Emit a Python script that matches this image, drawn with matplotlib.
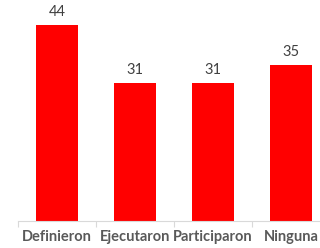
import numpy as np
import matplotlib
matplotlib.use("Agg")
import matplotlib.pyplot as plt

# Data
categories = ["Definieron", "Ejecutaron", "Participaron", "Ninguna"]
values = [44, 31, 31, 35]

BAR_COLOR = "#ff0000"
TEXT_COLOR = "#595959"
AXIS_COLOR = "#d9d9d9"

fig = plt.figure(figsize=(3.2, 2.48), dpi=100)
# axes runs a bit past the right border like in the source
ax = fig.add_axes([18 / 320, 27.5 / 248, 312 / 320, 221.8 / 248])

x = np.arange(len(categories))
bars = ax.bar(x, values, width=0.53, color=BAR_COLOR, zorder=2)

for b, v in zip(bars, values):
    ax.text(b.get_x() + b.get_width() / 2, v + 1.4, str(v),
            ha="center", va="bottom", fontsize=10.5, color="#404040",
            family="Lato")

ax.set_xlim(-0.5, len(categories) - 0.5)
ax.set_ylim(0, 50)

# category boundaries get the tick marks, labels sit in between
ax.set_xticks(np.arange(-0.5, len(categories), 1.0))
ax.set_xticklabels([])
ax.set_xticks(x, minor=True)
ax.set_xticklabels(categories, minor=True, fontsize=10.5, color=TEXT_COLOR,
                   family="Lato", fontweight="bold")
ax.tick_params(axis="x", which="major", length=4, color=AXIS_COLOR, width=0.8)
ax.tick_params(axis="x", which="minor", length=0, pad=7)
ax.set_yticks([])

for s in ["top", "right", "left"]:
    ax.spines[s].set_visible(False)
ax.spines["bottom"].set_color(AXIS_COLOR)
ax.spines["bottom"].set_linewidth(0.8)

fig.savefig("out.png", dpi=100)
